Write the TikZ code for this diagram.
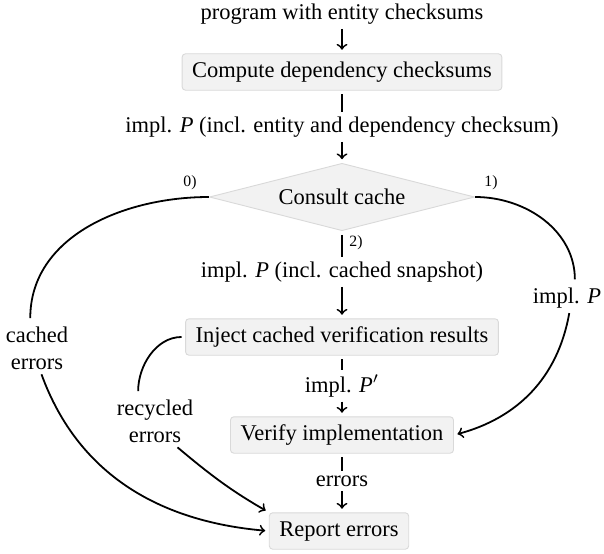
\documentclass[tikz,border=0pt]{standalone}
\usepackage{fontspec}
\setmainfont{Liberation Serif}
\usetikzlibrary{shapes.geometric}
\definecolor{boxfill}{HTML}{F2F2F2}
\definecolor{boxline}{HTML}{D9D9D9}
\tikzset{
  procbox/.style={draw=boxline, fill=boxfill, rounded corners=1.5pt, line width=0.4pt,
    text height=7pt, text depth=2pt, inner xsep=4.5pt, inner ysep=3.6pt},
  decide/.style={diamond, draw=boxline, fill=boxfill, line width=0.4pt, aspect=4,
    minimum width=118pt, minimum height=30pt, inner sep=0pt},
  lbl/.style={inner xsep=1.5pt, inner ysep=0.3pt},
  smalllbl/.style={font=\fontsize{7}{8}\selectfont, inner sep=0pt},
  conn/.style={line width=0.8pt, shorten <=1.6pt, shorten >=1.6pt},
  arr/.style={conn, ->},
}
\begin{document}
\begin{tikzpicture}[x=0.445pt, y=-0.445pt]
\useasboundingbox (0,0) rectangle (604,553);
\node[lbl] (top) at (342,14) {program with entity checksums};
\node[procbox] (c1) at (342,72) {Compute dependency checksums};
\node[lbl] (l1) at (342,127) {impl. \textit{P} (incl. entity and dependency checksum)};
\node[decide] (d) at (342,197) {Consult cache};
\node[lbl] (l2) at (342,272) {impl. \textit{P} (incl. cached snapshot)};
\node[procbox] (inj) at (342,337) {Inject cached verification results};
\node[lbl] (l3) at (342,386) {impl. \textit{P}$'$};
\node[procbox] (ver) at (342,435) {Verify implementation};
\node[lbl] (l4) at (342,481) {errors};
\node[procbox] (rep) at (339,531) {Report errors};
\node[lbl, inner ysep=2pt, align=center] (ce) at (37,348) {cached\\errors};
\node[lbl, inner ysep=2pt, align=center] (re) at (155,421) {recycled\\errors};
\node[lbl, inner ysep=2pt] (ip) at (567,298) {impl. \textit{P}};
\node[smalllbl] (n0) at (190,183) {0)};
\node[smalllbl] (n1) at (491,183) {1)};
\node[smalllbl] (n2) at (356,243) {2)};

\draw[arr] (top) -- (c1);
\draw[conn] (c1) -- (l1);
\draw[arr] (l1) -- (d);
\draw[conn] (d) -- (l2);
\draw[arr] (l2) -- (inj);
\draw[conn] (inj) -- (l3);
\draw[arr] (l3) -- (ver);
\draw[conn] (ver) -- (l4);
\draw[arr] (l4) -- (l4 |- rep.north);

\draw[conn, shorten <=0pt] (d.west) to[out=180, in=90] ([xshift=-3pt]ce.north);
\draw[arr, shorten <=0pt] ([xshift=2pt]ce.south) to[out=-70, in=175] (rep.west);
\draw[conn] (inj.west) to[out=180, in=90] ([xshift=-7.5pt]re.north);
\draw[arr, shorten <=0pt] ([xshift=10pt]re.south) to[out=-40, in=150] (rep.north west);
\draw[conn, shorten <=0pt] (d.east) to[out=0, in=90] ([xshift=3.5pt]ip.north);
\draw[arr, shorten <=0pt] ([xshift=1pt]ip.south) to[out=-100, in=15] (ver.east);
\end{tikzpicture}
\end{document}
